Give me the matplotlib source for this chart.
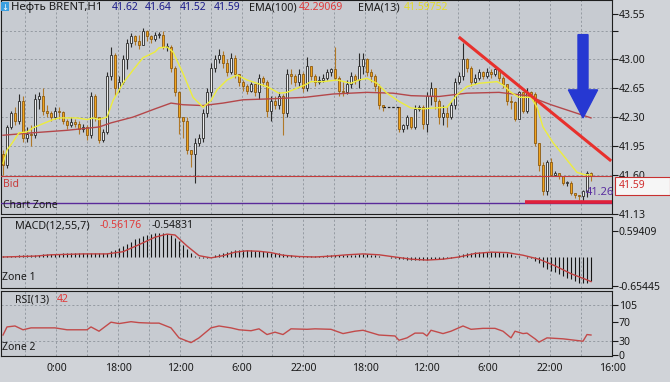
import numpy as np
import pandas as pd
import matplotlib
matplotlib.use("Agg")
import matplotlib.pyplot as plt
from matplotlib.patches import FancyArrow, Rectangle

plt.rcParams['font.family'] = ['Noto Sans', 'DejaVu Sans']

# hourly bars, NaN = hole in the history
first_open = 41.85
closes = [41.72, 42.18, 42.35, 42.25, 42.50, 42.05, 42.10, 42.08, 42.52, 42.55,
          42.38, 42.35, 42.30, 42.38, 42.36, 42.25, 42.20, 42.24, 42.22, 42.15,
          42.18, 42.08, 42.55, 42.30, 42.02, 42.12, 42.80, 43.05, 42.65, 42.72,
          43.00, 43.20, 43.28, 43.22, 43.18, 43.35, 43.28, 43.25, 43.30, 43.30,
          43.15, 43.15, 42.90, 42.60, 42.30, 42.25, 41.90, 41.85, 41.98, 42.05,
          42.35, 42.60, 42.90, 43.00, 43.05, 42.95, 42.85, 43.02, 42.82, 42.72,
          42.68, 42.62, 42.70, 42.60, 42.78, 42.72, 42.38, 42.50, 42.45, 42.55,
          42.35, 42.82, 42.80, 42.72, 42.82, 42.65, 42.92, 42.80, 42.72, 42.75,
          42.78, 42.85, 42.88, 42.78, 42.62, 42.60, 42.70, 42.80, 42.75, 42.92,
          43.00, 42.85, 42.80, 42.68, 42.45, 42.42, np.nan, np.nan, np.nan, 42.15,
          42.20, 42.30, 42.18, 42.40, 42.42, 42.22, 42.55, 42.65, 42.50, 42.30,
          42.35, 42.30, 42.45, 42.72, 42.80, 43.00, 42.90, 42.72, 42.78, 42.85,
          42.80, 42.85, 42.82, 42.88, 42.78, 42.70, 42.50, 42.48, 42.28, 42.60,
          42.38, 42.60, 42.58, 41.98, 41.72, 41.40, 41.75, 41.60, 41.62, 41.58,
          41.50, 41.50, 41.38, 41.35, 41.34, 41.40, 41.62, 41.59]
highs = [41.90, 42.20, 42.38, 42.42, 42.58, 42.55, 42.18, 42.20, 42.58, 42.60,
         42.65, 42.45, 42.38, 42.42, 42.42, 42.38, 42.28, 42.30, 42.28, 42.25,
         42.22, 42.20, 42.60, 42.58, 42.30, 42.15, 42.85, 43.15, 43.08, 42.80,
         43.05, 43.25, 43.32, 43.30, 43.30, 43.38, 43.36, 43.30, 43.33, 43.33,
         43.35, 43.20, 43.18, 42.92, 42.62, 42.30, 42.30, 41.90, 42.05, 42.10,
         42.40, 42.65, 42.95, 43.05, 43.12, 43.10, 43.00, 43.08, 43.05, 42.82,
         42.75, 42.70, 42.72, 42.70, 42.82, 42.80, 42.75, 42.55, 42.55, 42.60,
         42.58, 42.88, 42.88, 42.82, 42.88, 42.85, 43.03, 42.92, 42.82, 42.80,
         42.82, 42.88, 42.90, 43.15, 42.80, 42.72, 42.75, 42.85, 42.82, 43.08,
         43.08, 43.02, 42.88, 42.82, 42.70, 42.45, np.nan, np.nan, np.nan, 42.42,
         42.22, 42.32, 42.30, 42.45, 42.45, 42.45, 42.60, 42.72, 42.62, 42.52,
         42.45, 42.42, 42.50, 42.78, 42.85, 43.20, 43.02, 42.92, 42.82, 42.88,
         42.86, 42.90, 42.88, 42.90, 42.88, 42.80, 42.70, 42.55, 42.50, 42.62,
         42.60, 42.65, 42.62, 42.60, 41.98, 41.75, 41.78, 41.80, 41.65, 41.62,
         41.58, 41.52, 41.52, 41.38, 41.36, 41.42, 41.65, 41.64]
lows = [41.60, 41.68, 42.15, 42.20, 42.22, 42.00, 42.00, 41.95, 42.05, 42.40,
        42.33, 42.30, 42.25, 42.28, 42.28, 42.22, 42.15, 42.18, 42.18, 42.10,
        42.12, 42.02, 42.05, 42.25, 41.98, 42.00, 42.10, 42.75, 42.55, 42.60,
        42.70, 42.88, 43.15, 43.18, 43.12, 43.18, 43.22, 43.20, 43.22, 43.26,
        43.12, 43.10, 42.85, 42.55, 42.10, 42.05, 41.85, 41.70, 41.50, 41.95,
        42.00, 42.30, 42.55, 42.85, 42.95, 42.90, 42.80, 42.82, 42.78, 42.68,
        42.62, 42.58, 42.60, 42.55, 42.52, 42.68, 42.30, 42.25, 42.40, 42.40,
        42.08, 42.30, 42.70, 42.68, 42.68, 42.60, 42.62, 42.75, 42.68, 42.70,
        42.72, 42.75, 42.80, 42.75, 42.55, 42.55, 42.58, 42.65, 42.70, 42.65,
        42.82, 42.80, 42.72, 42.62, 42.40, 42.38, np.nan, np.nan, np.nan, 42.12,
        42.12, 42.15, 42.15, 42.15, 42.38, 42.15, 42.12, 42.45, 42.40, 42.22,
        42.20, 42.18, 42.28, 42.40, 42.70, 42.75, 42.85, 42.68, 42.70, 42.75,
        42.76, 42.78, 42.78, 42.80, 42.74, 42.65, 42.45, 42.40, 42.25, 42.28,
        42.35, 42.35, 42.55, 41.95, 41.65, 41.35, 41.35, 41.58, 41.58, 41.55,
        41.48, 41.47, 41.35, 41.32, 41.30, 41.26, 41.33, 41.52]

ema13_bars = [0, 1, 2.5, 4, 6, 7.5, 9, 12.5, 14, 18.5, 21, 22.5, 24, 26, 27.5, 30, 32.5, 35, 38, 39,
              41, 42.5, 45, 47.5, 50, 52, 53.5, 56, 58.5, 61, 63.5, 66, 69, 71, 73.5, 75.5, 77, 80, 83.5, 87,
              89, 91, 93.5, 96, 99, 102, 105, 107.5, 111, 113.5, 116, 119, 123.5, 125, 127, 129, 132, 133.5,
              135, 137.5, 141, 143.5, 145.5, 147]
ema13_vals = [41.74, 41.9, 42.0, 42.11, 42.12, 42.17, 42.2, 42.27, 42.29, 42.29, 42.27, 42.29, 42.27, 42.3,
              42.5, 42.71, 42.87, 43.02, 43.09, 43.14, 43.15, 43.09, 42.83, 42.54, 42.42, 42.5, 42.63, 42.75,
              42.81, 42.75, 42.71, 42.67, 42.59, 42.6, 42.65, 42.69, 42.73, 42.73, 42.75, 42.71, 42.75, 42.77,
              42.71, 42.59, 42.49, 42.41, 42.4, 42.41, 42.42, 42.57, 42.67, 42.71, 42.73, 42.69, 42.6, 42.54,
              42.54, 42.42, 42.18, 41.99, 41.78, 41.63, 41.6, 41.6]
ema100_bars = [0, 7.5, 16, 24, 27, 32.5, 38, 42, 45, 50, 55, 60, 66, 75.5, 82.5, 91, 97.5, 102, 109, 116,
               124, 131, 137, 147]
ema100_vals = [42.08, 42.11, 42.14, 42.18, 42.23, 42.3, 42.4, 42.47, 42.45, 42.44, 42.47, 42.51, 42.52,
               42.54, 42.58, 42.6, 42.59, 42.56, 42.55, 42.59, 42.6, 42.56, 42.45, 42.29]

macd_hist = [0.02, 0.02, 0.03, 0.03, 0.04, 0.04, 0.04, 0.05, 0.05, 0.05,
             0.06, 0.06, 0.07, 0.07, 0.07, 0.08, 0.08, 0.08, 0.08, 0.08,
             0.08, 0.08, 0.09, 0.09, 0.08, 0.08, 0.10, 0.14, 0.17, 0.20,
             0.25, 0.30, 0.35, 0.40, 0.43, 0.47, 0.50, 0.52, 0.54, 0.55,
             0.55, 0.53, 0.50, 0.44, 0.36, 0.27, 0.18, 0.10, 0.03, -0.02,
             -0.03, -0.02, 0.01, 0.04, 0.07, 0.10, 0.12, 0.14, 0.15, 0.16,
             0.16, 0.16, 0.15, 0.14, 0.14, 0.13, 0.11, 0.10, 0.09, 0.08,
             0.06, 0.05, 0.04, 0.03, 0.03, 0.03, 0.03, 0.03, 0.03, 0.03,
             0.03, 0.04, 0.04, 0.05, 0.05, 0.05, 0.05, 0.05, 0.05, 0.06,
             0.06, 0.06, 0.05, 0.04, 0.02, 0.00, -0.01, -0.02, -0.03, -0.04,
             -0.05, -0.06, -0.07, -0.07, -0.07, -0.07, -0.06, -0.05, -0.05, -0.05,
             -0.04, -0.03, -0.02, 0.01, 0.04, 0.07, 0.09, 0.10, 0.11, 0.12,
             0.12, 0.12, 0.12, 0.12, 0.11, 0.10, 0.08, 0.06, 0.03, 0.02,
             0.00, -0.02, -0.03, -0.08, -0.14, -0.22, -0.27, -0.31, -0.35, -0.39,
             -0.43, -0.47, -0.51, -0.55, -0.58, -0.60, -0.58, -0.55]
signal_bars = [0, 8, 12, 20, 26, 30, 34, 38, 41, 43, 46, 49, 52, 55, 58, 61, 64, 67, 70, 74,
               78, 82, 86, 90, 94, 98, 102, 106, 110, 114, 118, 122, 126, 130, 134, 138, 142, 146, 147]
signal_vals = [0.0, 0.02, 0.05, 0.07, 0.07, 0.12, 0.28, 0.45, 0.52, 0.5, 0.25, 0.03, -0.02, 0.03, 0.11,
               0.14, 0.13, 0.1, 0.04, 0.01, 0.0, 0.02, 0.05, 0.07, 0.05, 0.0, -0.05, -0.07, -0.05, 0.0,
               0.08, 0.11, 0.1, 0.04, -0.05, -0.2, -0.38, -0.52, -0.56]

rsi_bars = [0, 1, 3, 5, 7, 10, 13, 16, 19, 21, 22, 24, 27, 29, 32, 34, 37, 39, 42, 44,
            47, 49, 52, 54, 57, 59, 62, 64, 66, 68, 70, 72, 76, 78, 82, 85, 88, 90, 94, 98,
            99, 101, 103, 105, 106, 107, 110, 112, 115, 117, 120, 123, 125, 127, 128, 130, 131, 133, 134, 136,
            140, 142, 145, 146, 147]
rsi_vals = [42, 59, 61, 53, 57, 57, 57, 53, 53, 53, 59, 50, 69, 66, 70, 68, 67, 67, 57, 36,
            26, 36, 57, 61, 57, 53, 51, 55, 43, 48, 43, 55, 54, 55, 54, 45, 50, 52, 42, 40,
            31, 36, 46, 46, 40, 52, 45, 50, 61, 54, 56, 56, 50, 36, 50, 45, 46, 34, 27, 36,
            34, 32, 29, 43, 42]

# drawn objects on the chart
bid_price = 41.59
zone_price = 41.26
trend_bars, trend_prices = [114.25, 151.75], [43.26, 41.78]
support_bars, support_price = [130.5, 152.25], 41.275
arrow_bar, arrow_from, arrow_to = 145, 43.30, 42.29

price_ticks = [43.55, 43.35, 43.00, 42.65, 42.30, 41.95, 41.60, 41.13]
price_labels = ['43.55', '', '43.00', '42.65', '42.30', '41.95', '41.60', '41.13']
macd_ticks = [0.59409, -0.65445]
rsi_ticks = [105, 70, 30, 0]
time_ticks = [13.5, 28.9, 44.3, 59.7, 75.1, 90.5, 105.9, 121.3, 136.7, 152.25]
time_labels = ['0:00', '18:00', '12:00', '6:00', '22:00', '18:00', '12:00', '6:00', '22:00', '16:00']

W, H = 670, 382
BG = '#c7cbd1'
GRID = '#8d939b'


def box(x0, y0, x1, y1):
    return [x0 / W, 1 - y1 / H, (x1 - x0) / W, (y1 - y0) / H]


def fx(x, y):
    return x / W, 1 - y / H


fig = plt.figure(figsize=(6.7, 3.82), dpi=100, facecolor='#d0d3d8')
ax = fig.add_axes(box(1, 0, 612, 214), facecolor=BG)
axm = fig.add_axes(box(1, 217, 612, 288), facecolor=BG, sharex=ax)
axr = fig.add_axes(box(1, 291, 612, 356), facecolor=BG, sharex=ax)

c = np.array(closes, float)
h = np.array(highs, float)
l = np.array(lows, float)
o = pd.Series(c).ffill().shift(1).to_numpy()
o[0] = first_open
idx = np.arange(len(c))
ok = ~np.isnan(c)
up = ok & (c >= o)
dn = ok & (c < o)
lo_b = np.minimum(o, c)
hb = np.maximum(np.abs(c - o), 0.012)

# grid
grid_bars = np.arange(5.6, 150, 7.72)
for a in (ax, axm, axr):
    for g in grid_bars:
        a.axvline(g, color=GRID, lw=0.6, ls=(0, (2.5, 2.5)), zorder=0)
for p in price_ticks[1:-1]:
    ax.axhline(p, color=GRID, lw=0.6, ls=(0, (2.5, 2.5)), zorder=0)
for r in (105, 30):
    axr.axhline(r, color=GRID, lw=0.6, ls=(0, (2.5, 2.5)), zorder=0)

# candles
ax.vlines(idx[up], l[up], h[up], color='#2b2b2b', lw=0.8, zorder=2)
ax.vlines(idx[dn], l[dn], h[dn], color='#b07828', lw=0.8, zorder=2)
ax.bar(idx[up], hb[up], bottom=lo_b[up], width=0.72, color='#ececec', edgecolor='#2b2b2b', lw=0.6, zorder=2)
ax.bar(idx[dn], hb[dn], bottom=lo_b[dn], width=0.72, color='#f2a51e', edgecolor='#8a5a14', lw=0.6, zorder=2)
gap = np.where(~ok)[0]
ax.plot([gap[0] - 1, gap[-1] + 1], [c[gap[0] - 1]] * 2, color='#222222', lw=0.9, ls=(0, (2, 1.5)), zorder=2)

ax.plot(ema100_bars, ema100_vals, color='#b4474a', lw=1.0, zorder=3)
ax.plot(ema13_bars, ema13_vals, color='#eded3c', lw=1.0, zorder=3)

ax.axhline(bid_price, color='#c43c3c', lw=0.8, zorder=3)
ax.axhline(zone_price, color='#5a2a9a', lw=1.0, zorder=3)
ax.plot(support_bars, [support_price] * 2, color='#e0203a', lw=2.6, solid_capstyle='butt', zorder=4)
ax.plot(trend_bars, trend_prices, color='#e8302c', lw=2.2, zorder=4)
ax.add_patch(FancyArrow(arrow_bar, arrow_from, 0, arrow_to - arrow_from, width=2.5, head_width=7.3,
                        head_length=0.34, length_includes_head=True, color='#2638d2', zorder=5))
ax.text(145.8, 41.38, '41.26', color='#5b2fa0', fontsize=8, va='center', ha='left', zorder=5)

ax.set_xlim(-0.5, 152.25)
ax.set_ylim(41.125, 43.72)

# MACD
axm.vlines(idx, 0, macd_hist, color='#151515', lw=0.8)
axm.plot(signal_bars, signal_vals, color='#c04040', lw=1.0)
axm.set_ylim(-0.705, 0.909)

# RSI
axr.plot(rsi_bars, rsi_vals, color='#c24a4a', lw=1.0)
axr.set_ylim(-2.1, 134.5)

for a in (ax, axm, axr):
    a.yaxis.tick_right()
    a.tick_params(axis='y', length=4, width=0.8, pad=1, labelsize=7.5, colors='#1a1a1a')
    for s in a.spines.values():
        s.set_color('#1e1e1e')
        s.set_linewidth(0.8)
ax.set_yticks(price_ticks, price_labels)
axm.set_yticks(macd_ticks, ['0.59409', '-0.65445'])
axr.set_yticks(rsi_ticks, [str(t) for t in rsi_ticks])
ax.tick_params(axis='x', length=0, labelbottom=False)
axm.tick_params(axis='x', length=0, labelbottom=False)
axr.set_xticks(time_ticks, time_labels)
axr.tick_params(axis='x', length=0, pad=5, labelsize=7.5, colors='#1a1a1a')

# bid price box on the scale
fig.patches.append(Rectangle(fx(615, 195), 55 / W, 18 / H, transform=fig.transFigure,
                             facecolor='#f6f6f6', edgecolor='#c83030', lw=0.8))
fig.text(*fx(619, 186), f'{bid_price:.2f}', color='#d03030', fontsize=7.5, va='center')

# header line
fig.patches.append(Rectangle(fx(1, 11), 8 / W, 9 / H, transform=fig.transFigure, facecolor='#3b9fe0'))
fig.text(*fx(5, 7), '↓', color='white', fontsize=6, ha='center', va='center')
head = [(11, 'Нефть BRENT,H1', '#1a1a1a', 8.2), (112, '41.62', '#1c1c8a', 7.5), (145, '41.64', '#1c1c8a', 7.5),
        (180, '41.52', '#1c1c8a', 7.5), (214, '41.59', '#1c1c8a', 7.5), (249, 'EMA(100)', '#1a1a1a', 7.8),
        (299, '42.29069', '#e03a3a', 7.5), (358, 'EMA(13)', '#1a1a1a', 7.8), (404, '41.59752', '#e5dd25', 7.5)]
for x, t, col, fs in head:
    fig.text(*fx(x, 7.5), t, color=col, fontsize=fs, va='center')

fig.text(*fx(3, 185), 'Bid', color='#c83a3a', fontsize=7.5, va='center')
fig.text(*fx(3, 205), 'Chart Zone', color='#1a1a1a', fontsize=7.5, va='center')
fig.text(*fx(15, 226), 'MACD(12,55,7)', color='#1a1a1a', fontsize=7.8, va='center')
fig.text(*fx(100, 226), '-0.56176', color='#e03a3a', fontsize=7.5, va='center')
fig.text(*fx(152, 226), '-0.54831', color='#1a1a1a', fontsize=7.5, va='center')
fig.text(*fx(2, 277), 'Zone 1', color='#1a1a1a', fontsize=7.5, va='center')
fig.text(*fx(15, 300), 'RSI(13)', color='#1a1a1a', fontsize=7.5, va='center')
fig.text(*fx(57, 300), '42', color='#e03a3a', fontsize=7.5, va='center')
fig.text(*fx(2, 347), 'Zone 2', color='#1a1a1a', fontsize=7.5, va='center')

fig.savefig('out.png', dpi=100, facecolor=fig.get_facecolor())
